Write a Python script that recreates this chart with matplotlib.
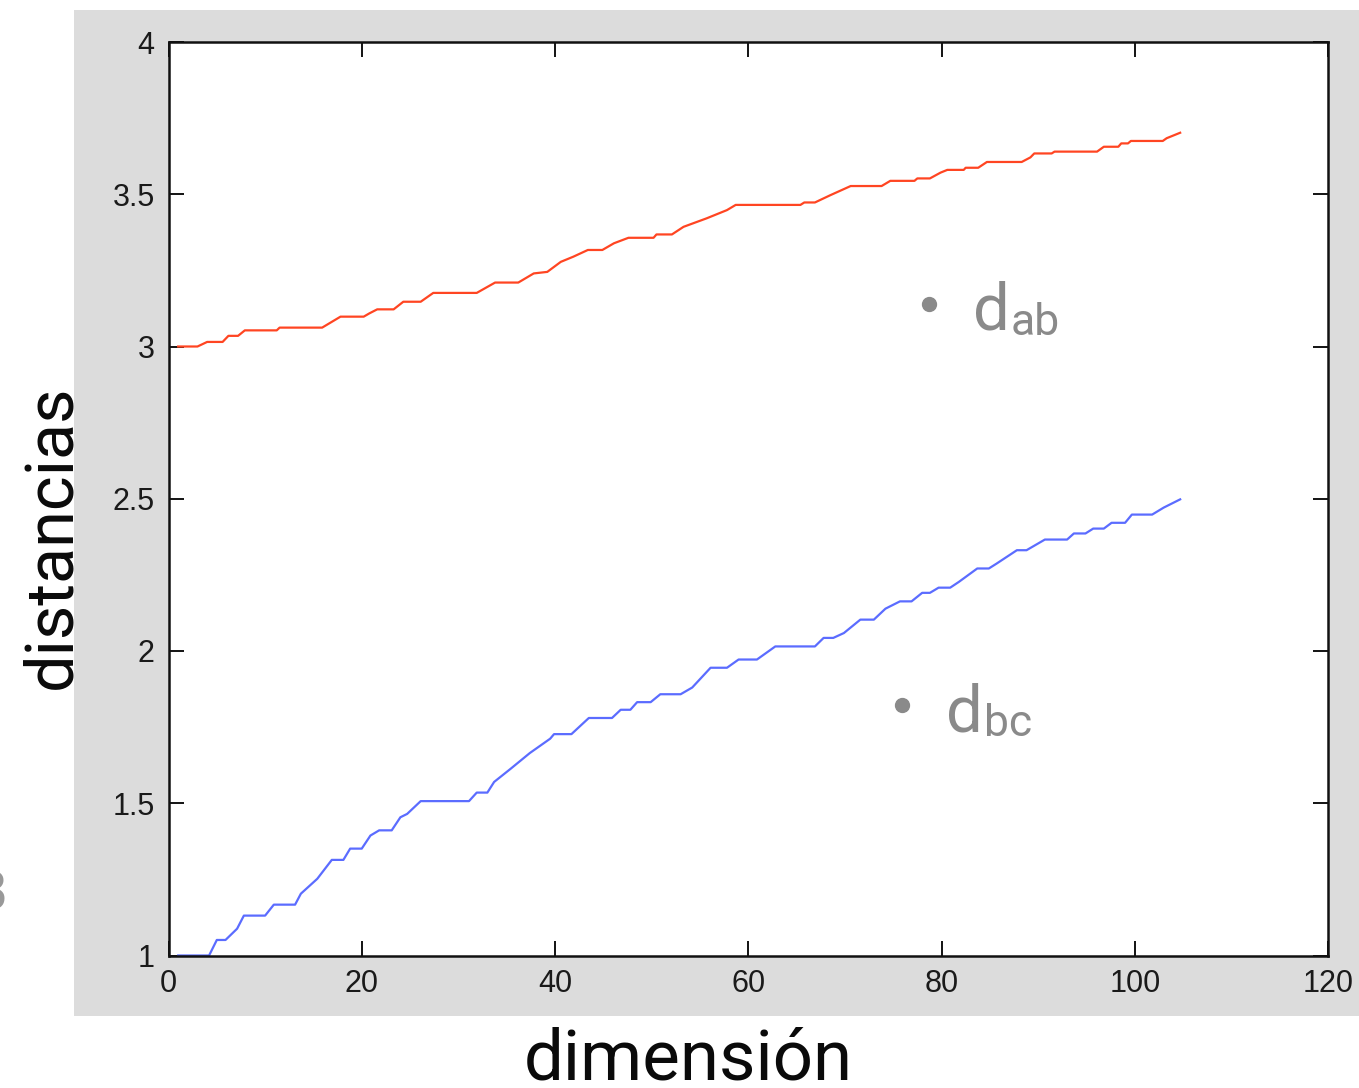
import numpy as np
import matplotlib
matplotlib.use('Agg')
from matplotlib import pyplot as plt
from matplotlib.patches import Rectangle

# curva d_ab (roja), vertices
dim_ab = [1, 3.0, 4.0, 5.6, 6.2, 7.2, 7.9, 11.2, 11.5, 15.9, 17.8, 20.2, 20.8, 21.6, 23.3,
          24.3, 26.1, 27.4, 31.9, 33.8, 36.2, 37.8, 39.2, 40.6, 41.9, 43.4, 44.9, 46.1,
          47.6, 50.2, 50.5, 52.1, 53.3, 55.7, 57.8, 58.7, 65.4, 65.8, 66.9, 68.5, 70.6,
          73.8, 74.7, 77.2, 77.5, 78.8, 79.9, 80.6, 82.3, 82.5, 83.8, 84.7, 88.3, 89.2,
          89.6, 91.4, 91.7, 96.1, 96.8, 98.3, 98.6, 99.3, 99.6, 102.9, 103.3, 104.7]
dist_ab = [3.000, 3.000, 3.015, 3.015, 3.035, 3.035, 3.053, 3.053, 3.062, 3.062, 3.098, 3.098,
           3.109, 3.122, 3.122, 3.147, 3.147, 3.176, 3.176, 3.210, 3.210, 3.240, 3.245, 3.278,
           3.295, 3.317, 3.317, 3.339, 3.357, 3.357, 3.368, 3.368, 3.393, 3.421, 3.448, 3.465,
           3.465, 3.473, 3.473, 3.497, 3.527, 3.527, 3.544, 3.544, 3.552, 3.552, 3.571, 3.580,
           3.580, 3.587, 3.587, 3.606, 3.606, 3.621, 3.634, 3.634, 3.640, 3.640, 3.656, 3.656,
           3.667, 3.667, 3.675, 3.675, 3.684, 3.702]

# curva d_bc (azul)
dim_bc = [1, 4.2, 5.0, 5.9, 7.1, 7.8, 10.0, 10.9, 13.1, 13.7, 15.4, 16.9, 18.1, 18.8, 20.0,
          20.9, 21.8, 23.1, 24.0, 24.7, 26.1, 31.1, 31.9, 33.0, 33.7, 35.4, 37.4, 39.5, 39.9,
          41.7, 43.5, 45.9, 46.8, 47.8, 48.5, 49.9, 50.9, 53.0, 54.2, 56.1, 57.8, 59.0, 60.9,
          62.8, 66.9, 67.8, 68.8, 69.9, 71.6, 73.0, 74.2, 75.7, 76.9, 78.0, 78.8, 79.7, 80.9,
          81.8, 83.7, 84.9, 85.7, 87.8, 88.8, 90.7, 93.0, 93.7, 94.9, 95.7, 96.8, 97.6, 99.0,
          99.7, 101.8, 103.0, 104.7]
dist_bc = [1.000, 1.000, 1.051, 1.051, 1.088, 1.131, 1.131, 1.167, 1.167, 1.203, 1.252, 1.314,
           1.314, 1.351, 1.351, 1.394, 1.411, 1.411, 1.454, 1.465, 1.507, 1.507, 1.535, 1.535,
           1.570, 1.613, 1.665, 1.712, 1.727, 1.727, 1.780, 1.780, 1.807, 1.807, 1.832, 1.832,
           1.858, 1.858, 1.880, 1.945, 1.945, 1.972, 1.972, 2.015, 2.015, 2.043, 2.043, 2.059,
           2.103, 2.103, 2.139, 2.163, 2.163, 2.191, 2.191, 2.208, 2.208, 2.227, 2.271, 2.271,
           2.287, 2.331, 2.331, 2.366, 2.366, 2.386, 2.386, 2.402, 2.402, 2.421, 2.421, 2.448,
           2.448, 2.471, 2.498]

xticks = [0, 20, 40, 60, 80, 100, 120]
yticks = [1, 1.5, 2, 2.5, 3, 3.5, 4]
ytick_labels = ['1', '1.5', '2', '2.5', '3', '3.5', '4']

W, H = 1359, 1088
plt.rcParams['font.family'] = ['Liberation Sans', 'DejaVu Sans']
label_font = ['Roboto', 'Liberation Sans']

fig = plt.figure(figsize=(W / 100, H / 100), dpi=100)
fig.patch.set_facecolor('white')

# panel gris de fondo (estilo matlab)
fig.patches.append(Rectangle((74 / W, 1 - 1015.5 / H), 1 - 74 / W, (1015.5 - 9.5) / H,
                             transform=fig.transFigure, facecolor='#dcdcdc',
                             edgecolor='none', zorder=-5))

ax = fig.add_axes([168.5 / W, 1 - 955.5 / H, (1328 - 168.5) / W, (955.5 - 42) / H])
ax.set_zorder(5)
ax.set_facecolor('white')
ax.plot(dim_ab, dist_ab, color='#ff4522', lw=1.6)
ax.plot(dim_bc, dist_bc, color='#5b6cff', lw=1.6)

ax.set_xlim(0, 120)
ax.set_ylim(1, 4)
ax.set_xticks(xticks)
ax.set_yticks(yticks)
ax.set_yticklabels(ytick_labels)
ax.tick_params(axis='both', direction='in', length=11, width=1.3, labelsize=22,
               labelcolor='#1a1a1a', top=True, right=True, pad=10)
for sp in ax.spines.values():
    sp.set_linewidth(1.8)
    sp.set_color('#111111')

# etiquetas de los ejes (fuera del panel)
fig.text(688 / W, 1 - 1080 / H, 'dimensión', fontsize=51, color='#0a0a0a',
         ha='center', va='baseline', family=label_font, zorder=10)
fig.text(70 / W, 1 - 537 / H, 'distancias', fontsize=48, color='#0a0a0a', rotation=90,
         rotation_mode='anchor', ha='center', va='baseline', family=label_font, zorder=10)

# anotaciones d_ab y d_bc
gray = '#8a8a8a'
for dx, dy, sub in [(0, 0, 'ab'), (-27, 401, 'bc')]:
    fig.add_artist(plt.Line2D([(929 + dx) / W], [1 - (304 + dy) / H], marker='o',
                              markersize=10, color=gray, lw=0, zorder=10))
    fig.text((973 + dx) / W, 1 - (330 + dy) / H, 'd', fontsize=47, color=gray,
             ha='left', va='baseline', family=label_font, zorder=10)
    fig.text((1011 + dx) / W, 1 - (335 + dy) / H, sub, fontsize=32, color=gray,
             ha='left', va='baseline', family=label_font, zorder=10)

# resto de un caracter cortado en el borde izquierdo
fig.text(6 / W, 1 - 910 / H, '8', fontsize=40, color='#999999', ha='right', va='baseline')

plt.savefig('out.png', dpi=100, facecolor='white')
